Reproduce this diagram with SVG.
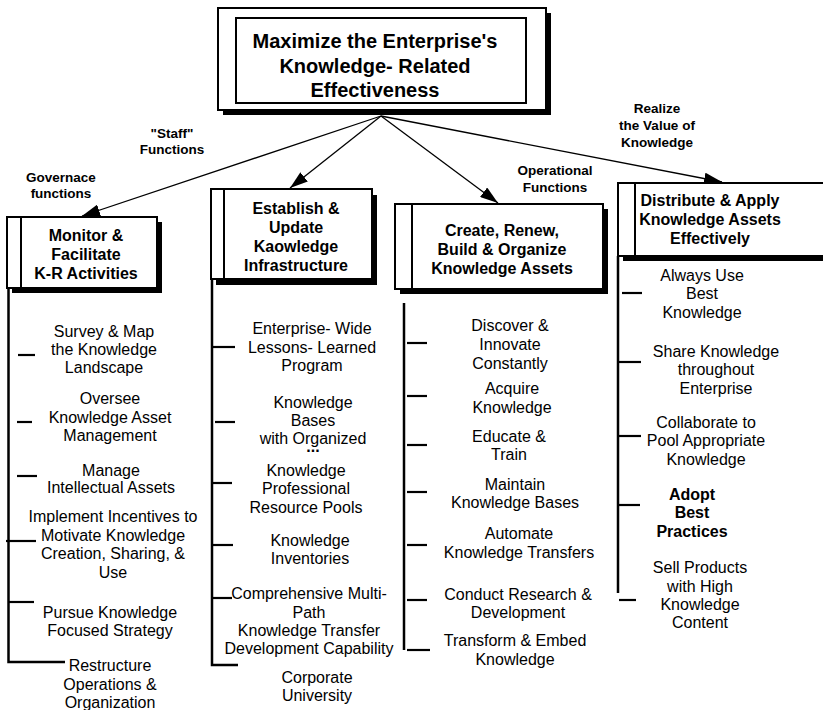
<svg xmlns="http://www.w3.org/2000/svg" width="823" height="710" viewBox="0 0 823 710">
<defs>
<style>
.bg{fill:#fff}
.box{fill:#fff;stroke:#000;stroke-width:2}
.sh{fill:#000}
.div{stroke:#000;stroke-width:2}
.title{font-family:"Liberation Sans",Arial,sans-serif;font-weight:bold;font-size:20px;text-anchor:middle;fill:#000}
.h{font-family:"Liberation Sans",Arial,sans-serif;font-weight:bold;font-size:16px;text-anchor:middle;fill:#000}
.t{font-family:"Liberation Sans",Arial,sans-serif;font-size:16px;text-anchor:middle;fill:#000}
.tb{font-family:"Liberation Sans",Arial,sans-serif;font-weight:bold;font-size:16px;text-anchor:middle;fill:#000}
.lbl{font-family:"Liberation Sans",Arial,sans-serif;font-weight:bold;font-size:13.5px;text-anchor:middle;fill:#000}
.arr{stroke:#000;stroke-width:1.3;fill:none;marker-end:url(#ah)}
.ln{stroke:#000;stroke-width:2.5;fill:none}
.tk{stroke:#000;stroke-width:2.2;fill:none}
</style>
<marker id="ah" markerUnits="userSpaceOnUse" markerWidth="20" markerHeight="12" refX="18" refY="6" orient="auto">
<path d="M0,0 L18,6 L0,12 Z" fill="#000"/>
</marker>
</defs>
<rect class="bg" x="0" y="0" width="823" height="710"/>

<g id="connectors">
<line class="arr" x1="381" y1="116" x2="82" y2="216"/>
<line class="arr" x1="381" y1="116" x2="290" y2="188"/>
<line class="arr" x1="381" y1="116" x2="498" y2="203"/>
<line class="arr" x1="381" y1="116" x2="722" y2="182"/>
<path class="ln" d="M8.5,288 V662 H65"/>
<line class="tk" x1="18" y1="355" x2="35" y2="355"/>
<line class="tk" x1="17" y1="422" x2="32" y2="422"/>
<line class="tk" x1="17" y1="476" x2="37" y2="476"/>
<line class="tk" x1="6" y1="541" x2="36" y2="541"/>
<line class="tk" x1="8" y1="602" x2="34" y2="602"/>
<path class="ln" d="M212,279 V665 H238"/>
<line class="tk" x1="213" y1="347" x2="235" y2="347"/>
<line class="tk" x1="215" y1="422" x2="235" y2="422"/>
<line class="tk" x1="213" y1="483" x2="232" y2="483"/>
<line class="tk" x1="212" y1="545" x2="233" y2="545"/>
<line class="tk" x1="213" y1="598" x2="232" y2="598"/>
<path class="ln" d="M404,303 V650"/>
<line class="tk" x1="407" y1="343" x2="427" y2="343"/>
<line class="tk" x1="407" y1="396" x2="427" y2="396"/>
<line class="tk" x1="407" y1="445" x2="427" y2="445"/>
<line class="tk" x1="407" y1="492" x2="427" y2="492"/>
<line class="tk" x1="407" y1="545" x2="427" y2="545"/>
<line class="tk" x1="407" y1="600" x2="427" y2="600"/>
<line class="tk" x1="407" y1="650" x2="430" y2="650"/>
<path class="ln" d="M618,256 V593"/>
<line class="tk" x1="622" y1="293" x2="642" y2="293"/>
<line class="tk" x1="619" y1="362" x2="641" y2="362"/>
<line class="tk" x1="619" y1="436" x2="641" y2="436"/>
<line class="tk" x1="619" y1="505" x2="640" y2="505"/>
<line class="tk" x1="619" y1="600" x2="636" y2="600"/>
</g>

<g id="n-top">
<rect class="sh" x="223" y="13" width="328" height="102"/>
<rect class="box" x="218" y="8" width="328" height="102"/>
<rect class="box" x="236" y="18" width="290" height="85"/>
<text class="title"><tspan x="375" y="48">Maximize the Enterprise's</tspan><tspan x="375" y="73">Knowledge- Related</tspan><tspan x="375" y="97">Effectiveness</tspan></text>
</g>

<g id="labels">
<text class="lbl"><tspan x="172" y="138">"Staff"</tspan><tspan x="172" y="154">Functions</tspan></text>
<text class="lbl"><tspan x="61" y="182">Governace</tspan><tspan x="61" y="198">functions</tspan></text>
<text class="lbl"><tspan x="657" y="113">Realize</tspan><tspan x="657" y="130">the Value of</tspan><tspan x="657" y="147">Knowledge</tspan></text>
<text class="lbl"><tspan x="555" y="175">Operational</tspan><tspan x="555" y="192">Functions</tspan></text>
</g>

<g id="n-monitor">
<rect class="sh" x="12" y="222" width="150" height="71"/>
<rect class="box" x="7" y="217" width="150" height="71"/>
<line class="div" x1="21" y1="217" x2="21" y2="288"/>
<text class="h"><tspan x="86" y="241">Monitor &amp;</tspan><tspan x="86" y="260">Facilitate</tspan><tspan x="86" y="279">K-R Activities</tspan></text>
</g>

<g id="n-establish">
<rect class="sh" x="216" y="195" width="161" height="90"/>
<rect class="box" x="211" y="189" width="161" height="90"/>
<line class="div" x1="224" y1="189" x2="224" y2="279"/>
<text class="h"><tspan x="296" y="214">Establish &amp;</tspan><tspan x="296" y="233">Update</tspan><tspan x="296" y="252">Kaowledge</tspan><tspan x="296" y="271">Infrastructure</tspan></text>
</g>

<g id="n-create">
<rect class="sh" x="400" y="209" width="208" height="85"/>
<rect class="box" x="395" y="204" width="208" height="85"/>
<line class="div" x1="412" y1="204" x2="412" y2="289"/>
<text class="h"><tspan x="502" y="236">Create, Renew,</tspan><tspan x="502" y="255">Build &amp; Organize</tspan><tspan x="502" y="274">Knowledge Assets</tspan></text>
</g>

<g id="n-distribute">
<rect class="sh" x="623" y="188" width="210" height="73"/>
<rect class="box" x="618" y="183" width="210" height="73"/>
<line class="div" x1="635" y1="183" x2="635" y2="256"/>
<text class="h"><tspan x="710" y="206">Distribute &amp; Apply</tspan><tspan x="710" y="225">Knowledge Assets</tspan><tspan x="710" y="244">Effectively</tspan></text>
</g>

<g id="col1-items">
<text class="t"><tspan x="104" y="337">Survey &amp; Map</tspan><tspan x="104" y="355">the Knowledge</tspan><tspan x="104" y="373">Landscape</tspan></text>
<text class="t"><tspan x="110" y="404">Oversee</tspan><tspan x="110" y="423">Knowledge Asset</tspan><tspan x="110" y="441">Management</tspan></text>
<text class="t"><tspan x="111" y="476">Manage</tspan><tspan x="111" y="493">Intellectual Assets</tspan></text>
<text class="t"><tspan x="113" y="522">Implement Incentives to</tspan><tspan x="113" y="541">Motivate Knowledge</tspan><tspan x="113" y="559">Creation, Sharing, &amp;</tspan><tspan x="113" y="578">Use</tspan></text>
<text class="t"><tspan x="110" y="618">Pursue Knowledge</tspan><tspan x="110" y="636">Focused Strategy</tspan></text>
<text class="t"><tspan x="110" y="671">Restructure</tspan><tspan x="110" y="690">Operations &amp;</tspan><tspan x="110" y="708">Organization</tspan></text>
</g>

<g id="col2-items">
<text class="t"><tspan x="312" y="334">Enterprise- Wide</tspan><tspan x="312" y="353">Lessons- Learned</tspan><tspan x="312" y="371">Program</tspan></text>
<text class="t"><tspan x="313" y="408">Knowledge</tspan><tspan x="313" y="426">Bases</tspan><tspan x="313" y="444">with Organized</tspan><tspan x="313" y="452" font-weight="bold">...</tspan></text>
<text class="t"><tspan x="306" y="476">Knowledge</tspan><tspan x="306" y="494">Professional</tspan><tspan x="306" y="513">Resource Pools</tspan></text>
<text class="t"><tspan x="310" y="546">Knowledge</tspan><tspan x="310" y="564">Inventories</tspan></text>
<text class="t"><tspan x="309" y="599">Comprehensive Multi-</tspan><tspan x="309" y="618">Path</tspan><tspan x="309" y="636">Knowledge Transfer</tspan><tspan x="309" y="654">Development Capability</tspan></text>
<text class="t"><tspan x="317" y="683">Corporate</tspan><tspan x="317" y="701">University</tspan></text>
</g>

<g id="col3-items">
<text class="t"><tspan x="510" y="331">Discover &amp;</tspan><tspan x="510" y="350">Innovate</tspan><tspan x="510" y="369">Constantly</tspan></text>
<text class="t"><tspan x="512" y="394">Acquire</tspan><tspan x="512" y="413">Knowledge</tspan></text>
<text class="t"><tspan x="509" y="442">Educate &amp;</tspan><tspan x="509" y="460">Train</tspan></text>
<text class="t"><tspan x="515" y="490">Maintain</tspan><tspan x="515" y="508">Knowledge Bases</tspan></text>
<text class="t"><tspan x="519" y="539">Automate</tspan><tspan x="519" y="558">Knowledge Transfers</tspan></text>
<text class="t"><tspan x="518" y="600">Conduct Research &amp;</tspan><tspan x="518" y="618">Development</tspan></text>
<text class="t"><tspan x="515" y="646">Transform &amp; Embed</tspan><tspan x="515" y="665">Knowledge</tspan></text>
</g>

<g id="col4-items">
<text class="t"><tspan x="702" y="281">Always Use</tspan><tspan x="702" y="299">Best</tspan><tspan x="702" y="318">Knowledge</tspan></text>
<text class="t"><tspan x="716" y="357">Share Knowledge</tspan><tspan x="716" y="375">throughout</tspan><tspan x="716" y="394">Enterprise</tspan></text>
<text class="t"><tspan x="706" y="428">Collaborate to</tspan><tspan x="706" y="446">Pool Appropriate</tspan><tspan x="706" y="465">Knowledge</tspan></text>
<text class="tb"><tspan x="692" y="500">Adopt</tspan><tspan x="692" y="518">Best</tspan><tspan x="692" y="537">Practices</tspan></text>
<text class="t"><tspan x="700" y="573">Sell Products</tspan><tspan x="700" y="592">with High</tspan><tspan x="700" y="610">Knowledge</tspan><tspan x="700" y="628">Content</tspan></text>
</g>
</svg>
